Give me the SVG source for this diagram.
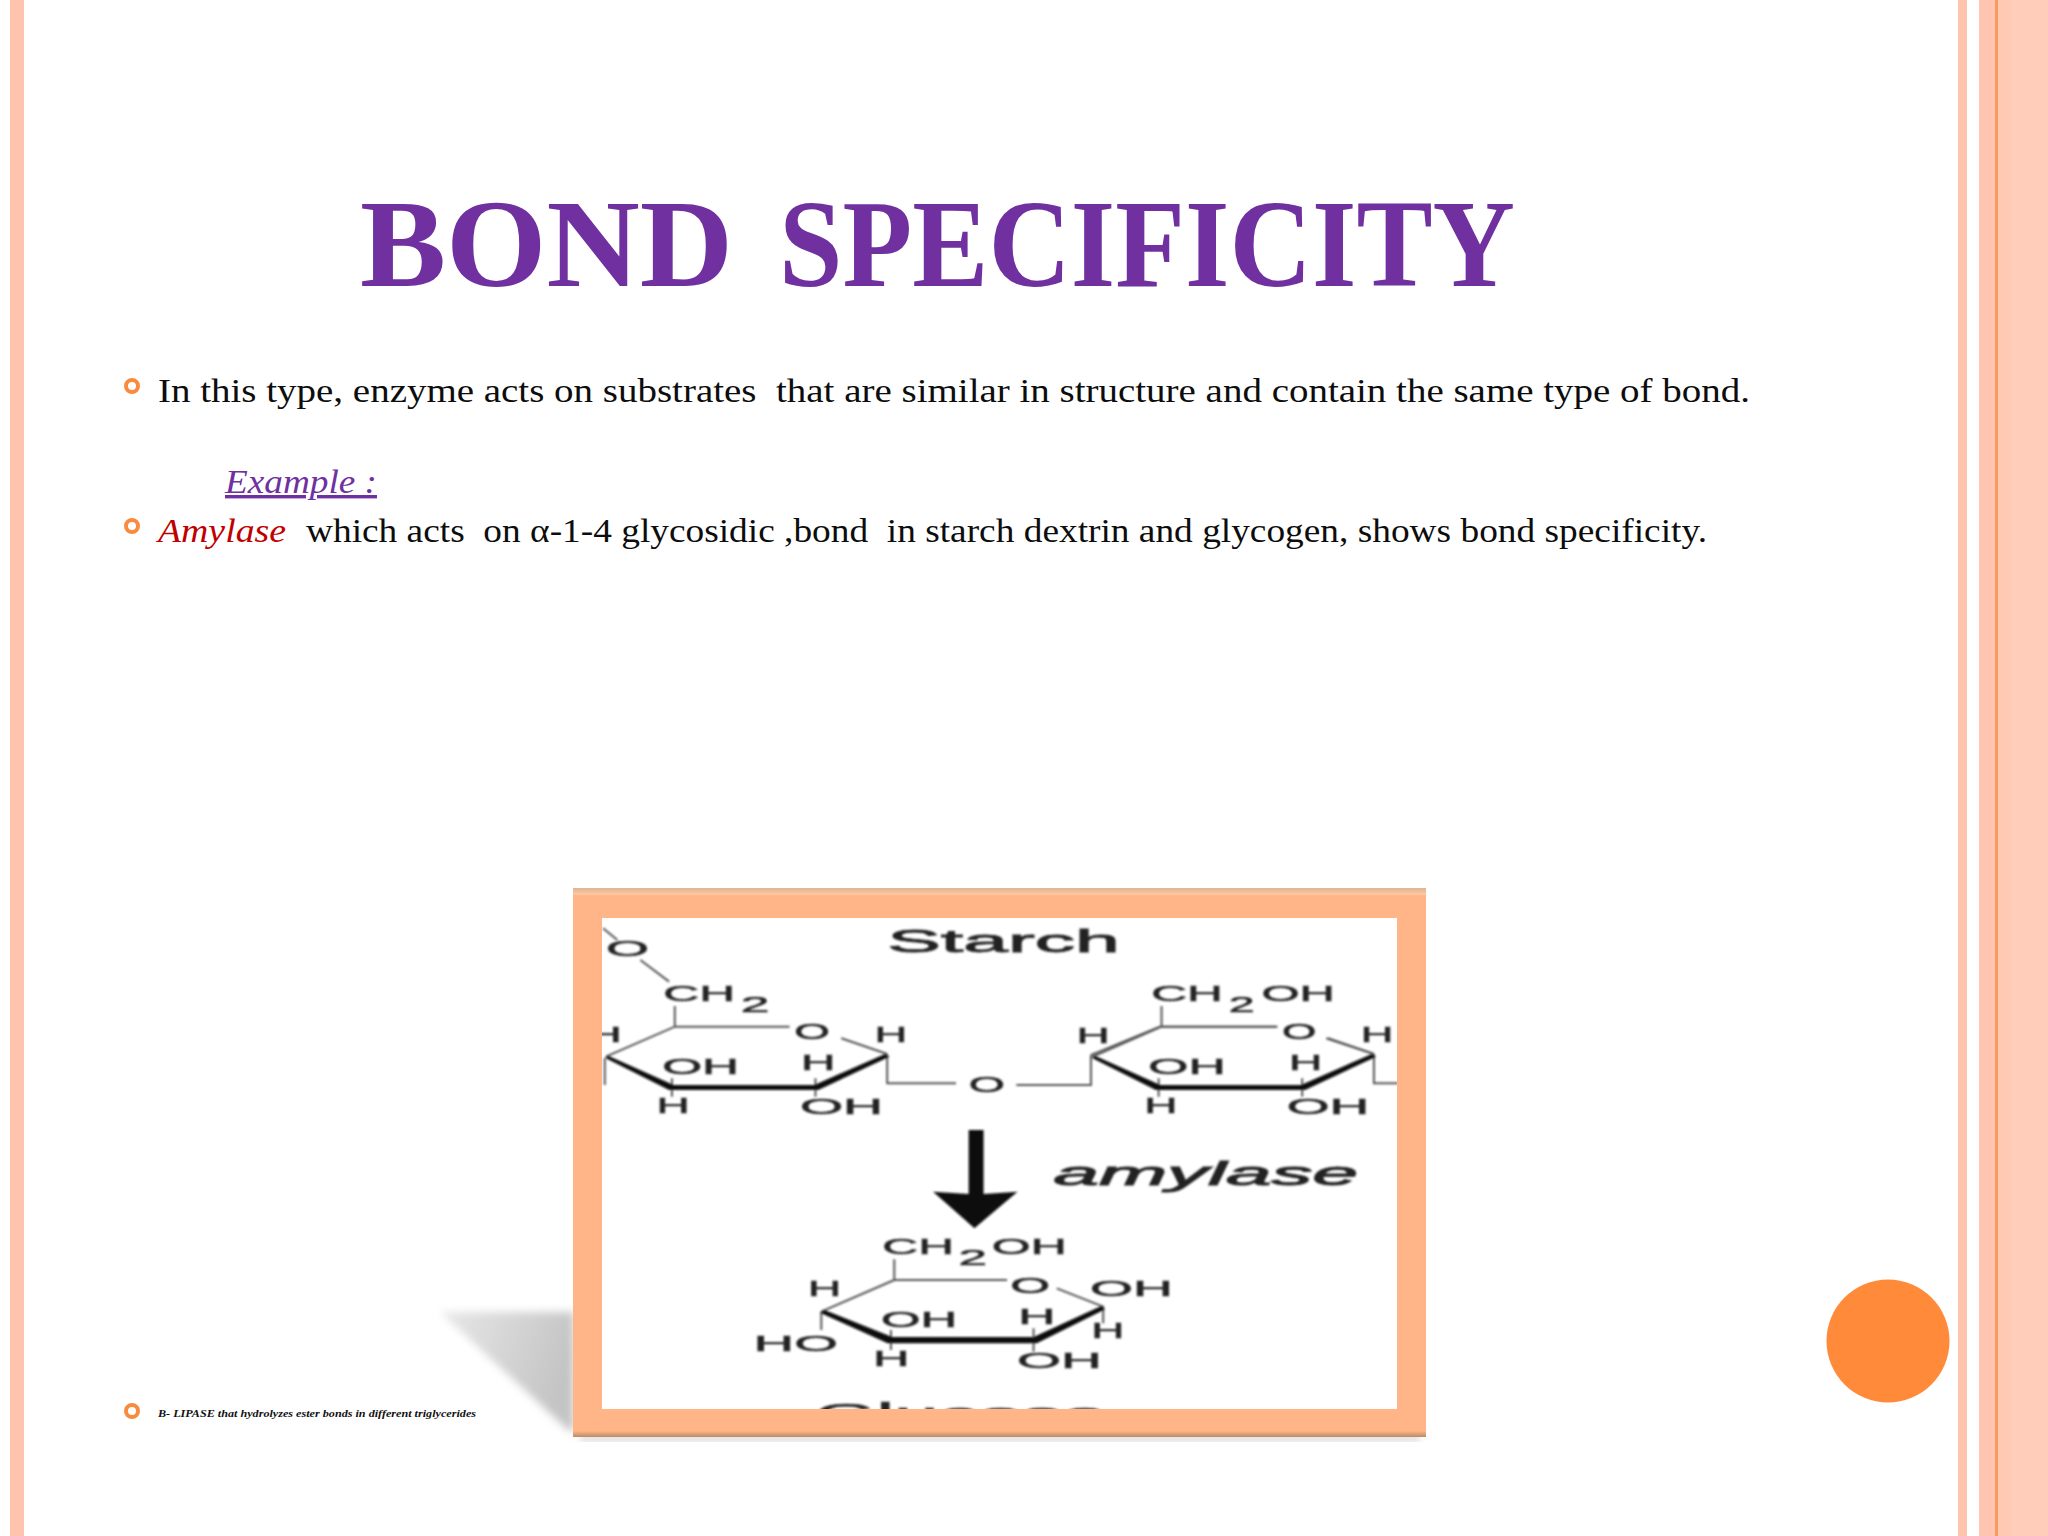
<svg xmlns="http://www.w3.org/2000/svg" xmlns:xlink="http://www.w3.org/1999/xlink" width="2048" height="1536" viewBox="0 0 2048 1536">
<style>
.body{font-family:"Liberation Serif","Times New Roman",serif;font-size:34px;fill:#0d0d0d}
.c{font-family:"Liberation Sans",Arial,sans-serif;font-size:68px;fill:#222;stroke:#222;stroke-width:1.6}
.bul{fill:none;stroke:#F98B3F;stroke-width:4}
.th{fill:none;stroke:#555;stroke-width:2;vector-effect:non-scaling-stroke}
.bd{fill:#111;stroke:none}
</style>
<defs>
<filter id="soft" x="-5%" y="-5%" width="110%" height="110%"><feGaussianBlur stdDeviation="0.8"/></filter>
<filter id="shb" x="-20%" y="-20%" width="140%" height="140%"><feGaussianBlur stdDeviation="4"/></filter>
<filter id="fsh" x="-5%" y="-5%" width="110%" height="110%"><feGaussianBlur stdDeviation="3"/></filter>
<linearGradient id="shg" x1="0" y1="0" x2="1" y2="0.3"><stop offset="0" stop-color="#e8e8e8"/><stop offset="1" stop-color="#c4c4c4"/></linearGradient>
<linearGradient id="tb" x1="0" y1="0" x2="0" y2="1"><stop offset="0" stop-color="#dcb595"/><stop offset="1" stop-color="#ffc9a2"/></linearGradient>
<linearGradient id="bb" x1="0" y1="0" x2="0" y2="1"><stop offset="0" stop-color="#FFB587"/><stop offset="1" stop-color="#b98a68"/></linearGradient>
<clipPath id="ph"><rect x="602" y="918" width="795" height="491"/></clipPath>
<g id="ring">
<path class="th" d="M80 560L200 470H400M490 505L570 552M200 408V470M195 625V680M445 625V680"/>
<polygon class="bd" points="78,563 85,558 198,645 443,645 566,552 574,560 450,660 190,660"/>
</g>
</defs>
<rect width="2048" height="1536" fill="#fff"/>
<g id="border">
<rect x="10" y="0" width="14" height="1536" fill="#FFC4AE"/>
<rect x="1958" y="0" width="9" height="1536" fill="#FFC4AE"/>
<rect x="1979" y="0" width="16" height="1536" fill="#FFC5B0"/>
<rect x="1995" y="0" width="3" height="1536" fill="#F99A5E"/>
<rect x="1998" y="0" width="13" height="1536" fill="#FFC9B4"/>
<rect x="2011" y="0" width="37" height="1536" fill="#FFCDB9"/>
</g>
<circle id="dot" cx="1888" cy="1341" r="61.5" fill="#FF8A3A"/>
<text id="title" y="286" lengthAdjust="spacingAndGlyphs" font-family="Liberation Serif, Times New Roman, serif" font-weight="700" font-size="125" fill="#7030A0"><tspan x="360" textLength="373" lengthAdjust="spacingAndGlyphs">BOND</tspan> <tspan x="779" textLength="736" lengthAdjust="spacingAndGlyphs">SPECIFICITY</tspan></text>
<g id="bullet1"><circle class="bul" cx="132" cy="386" r="6"/>
<text class="body" x="158" y="402" textLength="1592" lengthAdjust="spacingAndGlyphs" xml:space="preserve">In this type, enzyme acts on substrates  that are similar in structure and contain the same type of bond.</text></g>
<text id="example" class="body" x="225" y="493" textLength="152" lengthAdjust="spacingAndGlyphs" font-style="italic" text-decoration="underline" style="fill:#7030A0">Example :</text>
<g id="bullet2"><circle class="bul" cx="132" cy="526" r="6"/>
<text class="body" x="158" y="542" textLength="128" lengthAdjust="spacingAndGlyphs" font-style="italic" style="fill:#C00000">Amylase</text>
<text class="body" x="306" y="542" textLength="1401" lengthAdjust="spacingAndGlyphs" xml:space="preserve">which acts  on α-1-4 glycosidic ,bond  in starch dextrin and glycogen, shows bond specificity.</text></g>
<g id="bullet3"><circle class="bul" cx="132" cy="1411" r="6"/>
<text x="158" y="1417" textLength="318" lengthAdjust="spacingAndGlyphs" font-family="Liberation Serif, Times New Roman, serif" font-size="10.5" font-weight="700" font-style="italic" fill="#111">B- LIPASE that hydrolyzes ester bonds in different triglycerides</text></g>
<g id="picture">
<polygon points="440,1312 574,1312 574,1433 566,1428" fill="url(#shg)" filter="url(#shb)"/>
<rect x="580" y="1436" width="840" height="5" fill="#aaa" opacity=".5" filter="url(#fsh)"/>
<rect x="573" y="888" width="853" height="549" fill="#FFB587"/>
<rect x="573" y="888" width="853" height="7" fill="url(#tb)"/>
<rect x="573" y="1431" width="853" height="6" fill="url(#bb)"/>
<rect x="602" y="918" width="795" height="491" fill="#fff"/>
<g clip-path="url(#ph)"><g filter="url(#soft)">
<g id="starch" transform="translate(560 870) scale(.574 .3333)">
<text class="c" x="570" y="245" textLength="405" lengthAdjust="spacingAndGlyphs" style="font-size:92px;stroke-width:2.4">Starch</text>
<path class="th" d="M75 175L100 210M140 270L190 335M570 552V640H690M795 645H925V555M925 555L1045 470M1045 470H1250M1335 505L1418 552M1418 552V640H1460M78 565V645"/>
<use xlink:href="#ring" href="#ring"/>
<use xlink:href="#ring" href="#ring" x="848"/>
<text class="c" x="80" y="258" textLength="75" lengthAdjust="spacingAndGlyphs">O</text>
<text class="c" x="180" y="392" textLength="125" lengthAdjust="spacingAndGlyphs">CH</text>
<text class="c" x="315" y="425" textLength="50" lengthAdjust="spacingAndGlyphs">2</text>
<text class="c" x="48" y="515" textLength="60" lengthAdjust="spacingAndGlyphs">H</text>
<text class="c" x="408" y="507" textLength="62" lengthAdjust="spacingAndGlyphs">O</text>
<text class="c" x="548" y="515" textLength="57" lengthAdjust="spacingAndGlyphs">H</text>
<text class="c" x="178" y="612" textLength="134" lengthAdjust="spacingAndGlyphs">OH</text>
<text class="c" x="420" y="600" textLength="60" lengthAdjust="spacingAndGlyphs">H</text>
<text class="c" x="168" y="728" textLength="58" lengthAdjust="spacingAndGlyphs">H</text>
<text class="c" x="418" y="733" textLength="145" lengthAdjust="spacingAndGlyphs">OH</text>
<text class="c" x="712" y="665" textLength="63" lengthAdjust="spacingAndGlyphs">O</text>
<text class="c" x="1030" y="392" textLength="125" lengthAdjust="spacingAndGlyphs">CH</text>
<text class="c" x="1165" y="425" textLength="45" lengthAdjust="spacingAndGlyphs">2</text>
<text class="c" x="1222" y="392" textLength="128" lengthAdjust="spacingAndGlyphs">OH</text>
<text class="c" x="900" y="518" textLength="58" lengthAdjust="spacingAndGlyphs">H</text>
<text class="c" x="1258" y="507" textLength="60" lengthAdjust="spacingAndGlyphs">O</text>
<text class="c" x="1395" y="515" textLength="57" lengthAdjust="spacingAndGlyphs">H</text>
<text class="c" x="1025" y="612" textLength="135" lengthAdjust="spacingAndGlyphs">OH</text>
<text class="c" x="1270" y="600" textLength="58" lengthAdjust="spacingAndGlyphs">H</text>
<text class="c" x="1018" y="728" textLength="58" lengthAdjust="spacingAndGlyphs">H</text>
<text class="c" x="1266" y="733" textLength="144" lengthAdjust="spacingAndGlyphs">OH</text>
<polygon class="bd" points="712,780 738,780 738,972 797,965 722,1075 650,965 712,972"/>
<text class="c" x="860" y="945" textLength="530" lengthAdjust="spacingAndGlyphs" font-style="italic" style="font-size:100px;stroke-width:3">amylase</text>
</g>
<g id="glucose" transform="translate(420 1200) scale(.6633 .3333)">
<text class="c" x="697" y="163" textLength="108" lengthAdjust="spacingAndGlyphs">CH</text>
<text class="c" x="812" y="195" textLength="43" lengthAdjust="spacingAndGlyphs">2</text>
<text class="c" x="862" y="163" textLength="113" lengthAdjust="spacingAndGlyphs">OH</text>
<path class="th" d="M715 178V240H885M960 265L1030 320V370M605 335L715 240M605 335V390M710 390V450M925 385V455"/>
<polygon class="bd" points="603,338 610,330 712,411 925,411 1027,318 1033,328 930,430 705,430"/>
<text class="c" x="890" y="280" textLength="60" lengthAdjust="spacingAndGlyphs">O</text>
<text class="c" x="1010" y="287" textLength="125" lengthAdjust="spacingAndGlyphs">OH</text>
<text class="c" x="585" y="288" textLength="50" lengthAdjust="spacingAndGlyphs">H</text>
<text class="c" x="902" y="372" textLength="56" lengthAdjust="spacingAndGlyphs">H</text>
<text class="c" x="695" y="382" textLength="115" lengthAdjust="spacingAndGlyphs">OH</text>
<text class="c" x="1012" y="413" textLength="50" lengthAdjust="spacingAndGlyphs">H</text>
<text class="c" x="503" y="452" textLength="127" lengthAdjust="spacingAndGlyphs">HO</text>
<text class="c" x="683" y="498" textLength="55" lengthAdjust="spacingAndGlyphs">H</text>
<text class="c" x="900" y="503" textLength="128" lengthAdjust="spacingAndGlyphs">OH</text>
<text class="c" x="595" y="671" textLength="440" lengthAdjust="spacingAndGlyphs" style="font-size:90px">Glucose</text>
</g>
</g></g>
</g>
</svg>
